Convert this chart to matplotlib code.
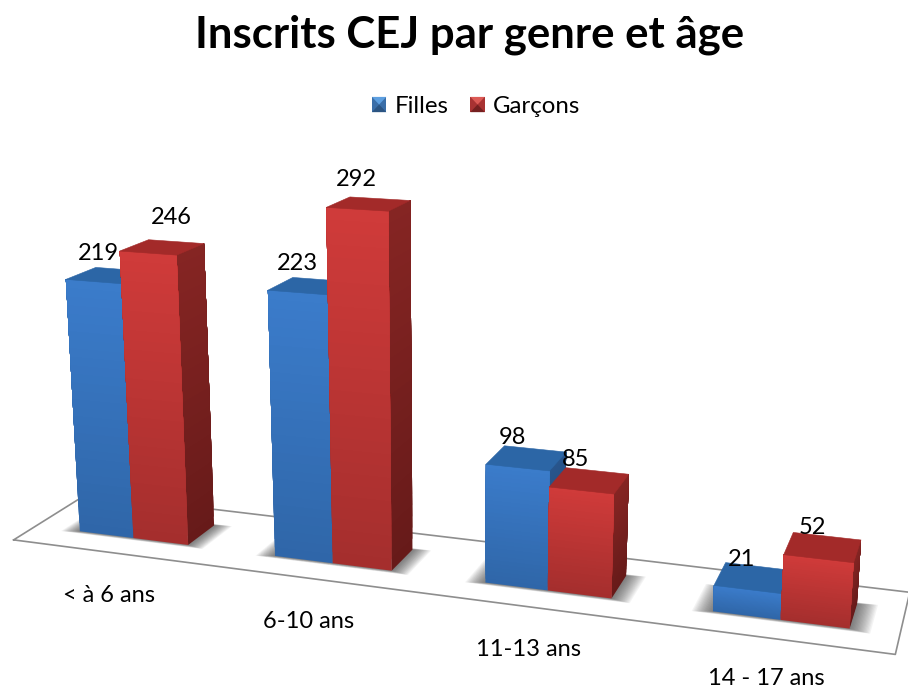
import numpy as np
import matplotlib
matplotlib.use("Agg")
import matplotlib.pyplot as plt
from matplotlib.patches import Patch, Polygon
from matplotlib.legend_handler import HandlerBase
from matplotlib.colors import to_rgb
from mpl_toolkits.mplot3d.art3d import Poly3DCollection

title = "Inscrits CEJ par genre et âge"
categories = ["< à 6 ans", "6-10 ans", "11-13 ans", "14 - 17 ans"]
series_names = ["Filles", "Garçons"]
filles = [219, 223, 98, 21]
garcons = [246, 292, 85, 52]

# label placement, in figure pixels from the top-left corner
value_label_px = [(98, 254), (297, 264), (512, 438), (742, 559),
                  (171, 218), (356, 180), (576, 460), (812, 528)]
category_label_px = [(109, 595), (309, 621), (529, 649), (766, 678.5)]

W, H = 908, 689
plt.rcParams['font.family'] = ['Lato', 'DejaVu Sans']
fig = plt.figure(figsize=(W / 100, H / 100), dpi=100, facecolor='white')

px0, py0 = 454, 689 - 344
side = 908.0
off = 0.95 / 1.85
ax = fig.add_axes([(px0 - off * side) / W, (py0 - off * side) / H, side / W, side / H],
                  projection='3d', computed_zorder=False)
ax.set_axis_off()
ax.view_init(elev=14.6, azim=-71.5)
ax.set_proj_type('persp', focal_length=0.3667)
XL = (-0.10, 4.0)
YL = (0.0, 1.158)
ZL = (0.0, 346.0)
ax.set_xlim(*XL, view_margin=0)
ax.set_ylim(*YL, view_margin=0)
ax.set_zlim(*ZL, view_margin=0)
ax.set_box_aspect((5.098, 1.44, 2.382), zoom=1.1186)

FLOOR_X = (-0.01, 3.985)
FLOOR_D = 0.672
BAR_W = 0.282
BAR_Y0, BAR_Y1 = 0.203, 0.475


def lerp(a, b, t):
    a, b = np.array(to_rgb(a)), np.array(to_rgb(b))
    return tuple(a + (b - a) * t)


def add_poly(verts, cols, z, lw=0.4):
    c = Poly3DCollection(verts, facecolors=cols, edgecolors=cols, linewidths=lw)
    c.set_zorder(z)
    c.set_clip_on(False)
    ax.add_collection3d(c, autolim=False)


def gradient_face(corner, h, u, top, bottom, z, n=30):
    """Painted bottom to top: every slice reaches the top of the face, so no seams show."""
    x, y = corner
    for k in range(n):
        z0 = h * k / n
        col = lerp(bottom, top, (k + 0.5) / n)
        add_poly([[(x, y, z0), (x + u[0], y + u[1], z0), (x + u[0], y + u[1], h), (x, y, h)]],
                 [col], z + 0.001 * k, lw=0)


def draw_bar(x0, h, pal, z):
    x1 = x0 + BAR_W
    gradient_face((x1, BAR_Y0), h, (0, BAR_Y1 - BAR_Y0), pal['side_t'], pal['side_b'], z)
    gradient_face((x0, BAR_Y0), h, (BAR_W, 0), pal['front_t'], pal['front_b'], z + 0.1)
    add_poly([[(x0, BAR_Y0, h), (x1, BAR_Y0, h), (x1, BAR_Y1, h), (x0, BAR_Y1, h)]],
             [pal['top']], z + 0.2)


BLUE = dict(front_t='#3b7ccb', front_b='#2f66a8', side_t='#28558c', side_b='#204670', top='#2c66a6',
            icon=('#5d9fe0', '#3a6ea8', '#2b5482'))
RED = dict(front_t='#d03b3a', front_b='#a42e2d', side_t='#862523', side_b='#661a19', top='#a32a29',
           icon=('#dc5a55', '#a83232', '#752020'))

# floor
fx0, fx1 = FLOOR_X
add_poly([[(fx0, 0, 0), (fx1, 0, 0), (fx1, FLOOR_D, 0), (fx0, FLOOR_D, 0)]], ['white'], 1)
ax.plot([fx0, fx1, fx1, fx0, fx0], [0, 0, FLOOR_D, FLOOR_D, 0], [0, 0, 0, 0, 0],
        color='#8e8e8e', lw=1.2, zorder=2, clip_on=False)

# soft shadows on the floor
for i in range(len(categories)):
    x0, x1 = i + 0.5 - BAR_W, i + 0.5 + BAR_W
    for d in np.linspace(0.005, 0.085, 16):
        sh = Poly3DCollection([[(x0 - d, BAR_Y0 - d * 0.3, 0), (x1 + d, BAR_Y0 - d * 0.3, 0),
                                (x1 + d, BAR_Y1 + d * 0.2, 0), (x0 - d, BAR_Y1 + d * 0.2, 0)]],
                              facecolors=[(0.2, 0.2, 0.2, 0.055)], edgecolors=[(0.2, 0.2, 0.2, 0.0)],
                              linewidths=0)
        sh.set_zorder(3)
        ax.add_collection3d(sh, autolim=False)

for i in range(len(categories)):
    draw_bar(i + 0.5 - BAR_W, filles[i], BLUE, 10 + i)
    draw_bar(i + 0.5, garcons[i], RED, 10.5 + i)

ax.set_xlim(*XL, view_margin=0)
ax.set_ylim(*YL, view_margin=0)
ax.set_zlim(*ZL, view_margin=0)

# texts
for val, (px, py) in zip(filles + garcons, value_label_px):
    fig.text(px / W, 1 - py / H, str(val), ha='center', va='center', fontsize=17, color='black', zorder=20)
for cat, (px, py) in zip(categories, category_label_px):
    fig.text(px / W, 1 - py / H, cat, ha='center', va='center', fontsize=17, color='black', zorder=20)
fig.text(470 / W, 1 - 35 / H, title, ha='center', va='center', fontsize=31.5, fontweight='bold', color='black')


class BevelIcon(HandlerBase):
    """Small square legend key with a light top and a dark bottom."""

    def __init__(self, colours):
        super().__init__()
        self.colours = colours

    def create_artists(self, legend, orig_handle, xdescent, ydescent, width, height, fontsize, trans):
        x0, y0 = -xdescent, -ydescent
        x1, y1 = x0 + width, y0 + height
        cx, cy = (x0 + x1) / 2, (y0 + y1) / 2
        light, mid, dark = self.colours
        shapes = [([(x0, y0), (x1, y0), (x1, y1), (x0, y1)], mid),
                  ([(x0, y1), (x1, y1), (cx, cy)], light),
                  ([(x0, y0), (x1, y0), (cx, cy)], dark)]
        return [Polygon(p, closed=True, facecolor=c, edgecolor='none', transform=trans) for p, c in shapes]


handles = [Patch(facecolor=BLUE['front_t']), Patch(facecolor=RED['front_t'])]
fig.legend(handles, series_names, loc='center', bbox_to_anchor=(476 / W, 1 - 106.5 / H), ncol=2,
           frameon=False, fontsize=17.3, handlelength=0.6, handleheight=0.6,
           handletextpad=0.33, columnspacing=0.92,
           handler_map={handles[0]: BevelIcon(BLUE['icon']), handles[1]: BevelIcon(RED['icon'])})

fig.savefig("out.png", dpi=100, facecolor='white')
